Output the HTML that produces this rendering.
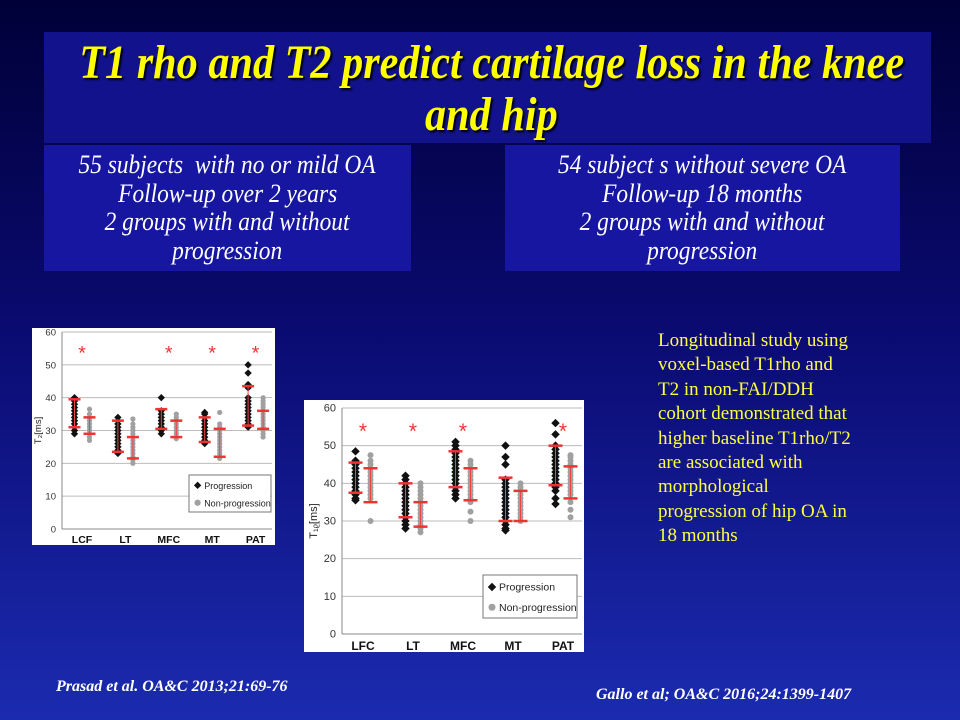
<!DOCTYPE html>
<html><head><meta charset="utf-8">
<style>
html,body{margin:0;padding:0}
body{width:960px;height:720px;position:relative;overflow:hidden;background:linear-gradient(180deg,#000038 0%,#0a0a70 45%,#1b2bb0 100%);font-family:"Liberation Serif",serif}
.box{position:absolute;background:#12128c}
.t{position:absolute;white-space:nowrap;text-align:center}
.sq{display:inline-block;transform:scaleX(0.9);transform-origin:center}
.tq{display:inline-block;transform:scaleX(0.88);transform-origin:center;margin:0 -150px}
</style></head><body>
<div class="box" style="left:44px;top:32px;width:887px;height:111px"></div>
<div class="t" style="left:48px;width:887px;top:37px;color:#ffff00;font-weight:bold;font-style:italic;font-size:48px;line-height:52px;text-shadow:2px 2px 2px #000"><span class="tq">T1 rho and T2 predict cartilage loss in the knee</span><br><span class="tq">and hip</span></div>
<div class="box" style="left:44px;top:145px;width:367px;height:126px;background:#1616a0"></div>
<div class="t" style="left:44px;width:367px;top:151px;color:#fff;font-style:italic;font-size:26px;line-height:28.5px"><span class="sq">55 subjects&nbsp; with no or mild OA</span><br><span class="sq">Follow-up over 2 years</span><br><span class="sq">2 groups with and without</span><br><span class="sq">progression</span></div>
<div class="box" style="left:505px;top:145px;width:395px;height:126px;background:#1616a0"></div>
<div class="t" style="left:505px;width:395px;top:151px;color:#fff;font-style:italic;font-size:26px;line-height:28.5px"><span class="sq">54 subject s without severe OA</span><br><span class="sq">Follow-up 18 months</span><br><span class="sq">2 groups with and without</span><br><span class="sq">progression</span></div>
<div class="t" style="left:658px;top:329px;color:#ffff40;font-size:19px;line-height:24.4px;text-align:left">Longitudinal study using<br>voxel-based T1rho and<br>T2 in non-FAI/DDH<br>cohort demonstrated that<br>higher baseline T1rho/T2<br>are associated with<br>morphological<br>progression of hip OA in<br>18 months</div>
<div class="t" style="left:56px;top:678px;color:#fff;font-weight:bold;font-style:italic;font-size:16px;text-align:left">Prasad et al. OA&amp;C 2013;21:69-76</div>
<div class="t" style="left:596px;top:686px;color:#fff;font-weight:bold;font-style:italic;font-size:16px;text-align:left">Gallo et al; OA&amp;C 2016;24:1399-1407</div>

<svg id="c1" style="position:absolute;left:32px;top:328px" width="243" height="217"></svg>
<svg id="c2" style="position:absolute;left:304px;top:400px" width="280" height="252"></svg>

<script>
// Chart 1 (T2, knee)
const cats1 = ["LCF","LT","MFC","MT","PAT"];
const ticks1 = [0,10,20,30,40,50,60];
const stars1 = [true,false,true,true,true];
const prog1 = [[29,30,31,32,33,34,35,36,37,38,39,40],[23,24,25,26,27,28,29,30,31,32,33,34],[29,30,31,32,33,34,35,36,40],[26,27,28,29,30,31,32,33,34,35,35.5],[31,32,33,34,35,36,37,38,39,40,43,44,47.5,50]];
const progBars1 = [[31,39.5],[23.5,33],[30.5,36.5],[26.5,34],[31.5,43.5]];
const non1 = [[27,28,29,30,31,32,33,34,35,36.5],[20,21,22,23,24,25,26,27,28,29,30,31,32,33.5],[27.5,28,29,30,31,32,33,34,35],[21.5,22,23,24,25,26,27,28,29,30,31,32,35.5],[28,29,30,31,32,33,34,35,36,37,38,39,40]];
const nonBars1 = [[29,34],[21.5,28],[28,33],[22,30.5],[30.5,36]];
// Chart 2 (T1rho, hip)
const cats2 = ["LFC","LT","MFC","MT","PAT"];
const ticks2 = [0,10,20,30,40,50,60];
const stars2 = [true,true,true,false,true];
const prog2 = [[35.5,36,37,38,39,40,41,42,43,44,45,46,48.5],[28,29,30,31,32,33,34,35,36,37,38,39,40,41,42],[36,37,38,39,40,41,42,43,44,45,46,47,48,49,50,51],[27.5,28,29,30,31,32,33,34,35,36,37,38,39,40,41,45,47,50],[34.5,36,38,39,40,41,42,43,44,45,46,47,48,49,50,53,56]];
const progBars2 = [[37.5,45.5],[31,40],[39,48.5],[30,41.5],[39.5,50]];
const non2 = [[30,36,37,38,39,40,41,42,43,44,45,46,47.5],[27,28,29,30,31,32,33,34,35,36,37,38,39,40],[30,32.5,35,36,37,38,39,40,41,42,43,44,45,46],[30,31,32,33,34,35,36,37,38,39,40],[31,33,35,37,38,39,40,41,42,43,44,45,46,47,47.5]];
const nonBars2 = [[35,44],[28.5,35],[35.5,44],[30,38],[36,44.5]];

const NS="http://www.w3.org/2000/svg";
function mk(svg,tag,attrs,name){const e=document.createElementNS(NS,tag);for(const k in attrs)e.setAttribute(k,attrs[k]);


svg.appendChild(e);return e;}

function draw(id,cfg){
  const svg=document.getElementById(id);
  mk(svg,'rect',{x:0,y:0,width:cfg.w,height:cfg.h,fill:'#fff'},'chart-background');
  const y=v=>cfg.y0-(v/60)*(cfg.y0-cfg.y60);
  const x=i=>cfg.x0+i*cfg.dx;
  cfg.ticks.forEach(t=>{
    if(t>0) mk(svg,'line',{x1:cfg.ax,x2:cfg.xr,y1:y(t),y2:y(t),stroke:'#bbb','stroke-width':1},'gridline');
    const tx=mk(svg,'text',{x:cfg.ax-6,y:y(t)+3.5,'font-size':cfg.fs,'text-anchor':'end',fill:'#333','font-family':'Liberation Sans, sans-serif'},'y-tick-label');tx.textContent=t;
  });
  mk(svg,'line',{x1:cfg.ax,x2:cfg.ax,y1:y(60),y2:y(0),stroke:'#888'},'y-axis');
  mk(svg,'line',{x1:cfg.ax,x2:cfg.xr,y1:y(0),y2:y(0),stroke:'#888'},'x-axis');
  const yl=mk(svg,'text',{x:0,y:0,'font-size':cfg.fs,fill:'#222','font-family':'Liberation Sans, sans-serif','text-anchor':'middle',transform:`translate(${cfg.ylx},${(y(0)+y(60))/2}) rotate(-90)`},'y-axis-title');yl.textContent=cfg.ytitle;
  cfg.cats.forEach((c,i)=>{
    const t=mk(svg,'text',{x:x(i),y:cfg.labY,'font-size':cfg.fs+1,'font-weight':'bold','text-anchor':'middle',fill:'#111','font-family':'Liberation Sans, sans-serif'},'category-label');t.textContent=c;
    if(cfg.stars[i]){const s=mk(svg,'text',{x:x(i),y:y(55)+11,'font-size':cfg.fs+10,'text-anchor':'middle',fill:'#e33','font-family':'Liberation Sans, sans-serif'},'significance-star');s.textContent='*';}
    const px=x(i)-cfg.off, nx=x(i)+cfg.off;
    cfg.non[i].forEach(v=>mk(svg,'circle',{cx:nx,cy:y(v),r:cfg.r,fill:'#a0a0a0'},'non-progression-point'));
    cfg.prog[i].forEach(v=>mk(svg,'rect',{x:px-cfg.r,y:y(v)-cfg.r,width:cfg.r*2,height:cfg.r*2,fill:'#111',transform:`rotate(45 ${px} ${y(v)})`},'progression-point'));
    [[px,cfg.pb[i]],[nx,cfg.nb[i]]].forEach(([cx,b])=>{
      mk(svg,'line',{x1:cx,x2:cx,y1:y(b[0]),y2:y(b[1]),stroke:'#e44','stroke-width':1},'sd-line');
      b.forEach(v=>mk(svg,'line',{x1:cx-cfg.cap,x2:cx+cfg.cap,y1:y(v),y2:y(v),stroke:'#e33','stroke-width':2.5},'sd-bar'));
    });
  });
  const L=cfg.leg;
  mk(svg,'rect',{x:L.x,y:L.y,width:L.w,height:L.h,fill:'#fff',stroke:'#777'},'legend-box');
  mk(svg,'rect',{x:L.x+6,y:L.y+L.h*0.28-cfg.r,width:cfg.r*2,height:cfg.r*2,fill:'#111',transform:`rotate(45 ${L.x+6+cfg.r} ${L.y+L.h*0.28})`},'legend-progression-marker');
  let t=mk(svg,'text',{x:L.x+6+cfg.r*2+4,y:L.y+L.h*0.28+3.5,'font-size':cfg.fs-0.5,fill:'#222','font-family':'Liberation Sans, sans-serif'},'legend-progression-label');t.textContent='Progression';
  mk(svg,'circle',{cx:L.x+6+cfg.r,cy:L.y+L.h*0.75,r:cfg.r+0.5,fill:'#a0a0a0'},'legend-non-progression-marker');
  t=mk(svg,'text',{x:L.x+6+cfg.r*2+4,y:L.y+L.h*0.75+3.5,'font-size':cfg.fs-0.5,fill:'#222','font-family':'Liberation Sans, sans-serif'},'legend-non-progression-label');t.textContent='Non-progression';
}
draw('c1',{w:243,h:217,ax:30,xr:240,y0:201,y60:4,x0:50,dx:43.4,off:7.5,r:2.6,cap:6,fs:9.5,labY:215,ylx:9,ytitle:'T\u2082[ms]',cats:cats1,ticks:ticks1,stars:stars1,prog:prog1,non:non1,pb:progBars1,nb:nonBars1,leg:{x:157,y:147,w:82,h:37}});
draw('c2',{w:280,h:252,ax:38,xr:278,y0:234,y60:8,x0:59,dx:50,off:7.5,r:3,cap:7,fs:11,labY:250,ylx:13,ytitle:'T\u2081\u1D68[ms]',cats:cats2,ticks:ticks2,stars:stars2,prog:prog2,non:non2,pb:progBars2,nb:nonBars2,leg:{x:179,y:175,w:94,h:43}});
</script>
</body></html>
